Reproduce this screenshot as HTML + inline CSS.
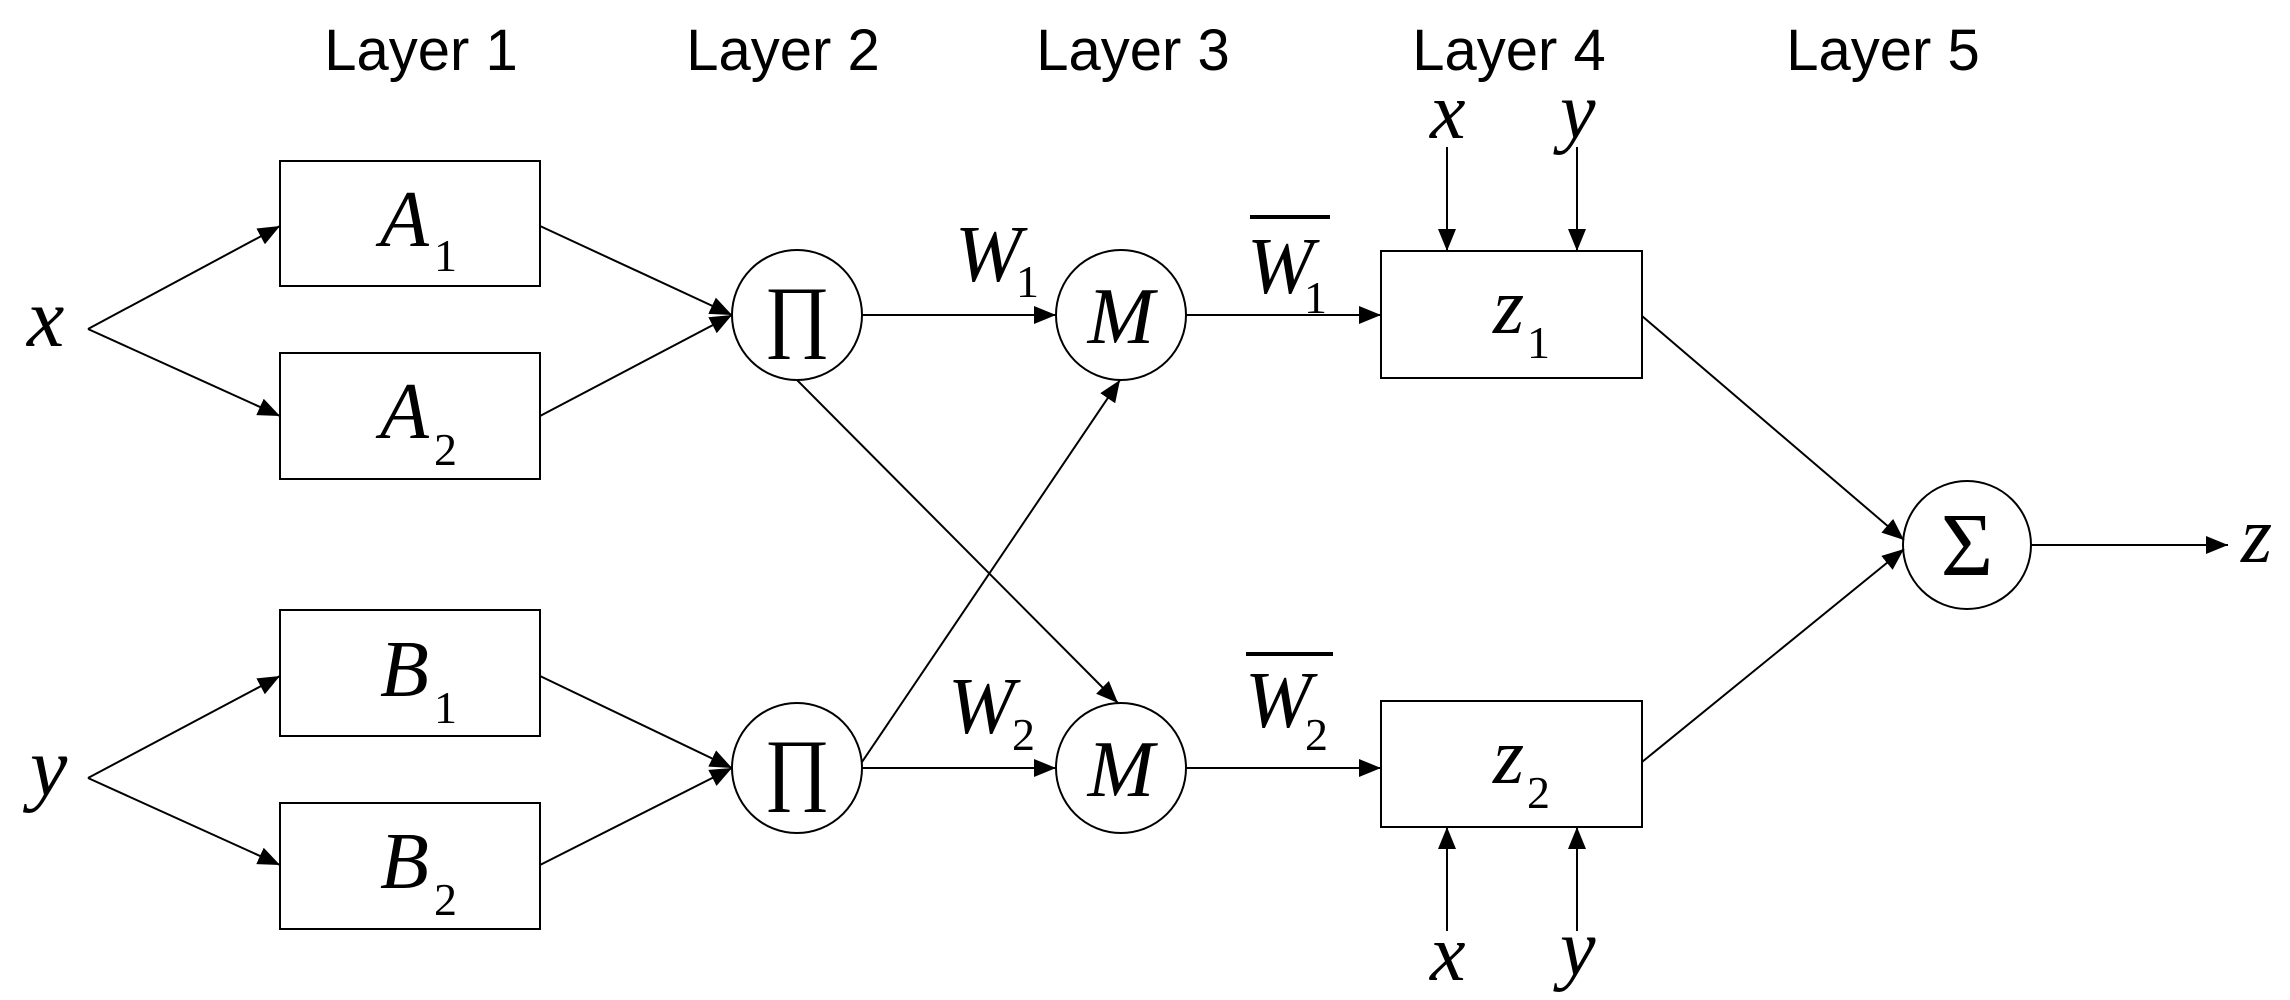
<!DOCTYPE html>
<html><head><meta charset="utf-8"><style>
html,body{margin:0;padding:0;background:#fff;}
svg{display:block}
.s{font-family:"Liberation Sans",sans-serif;font-size:58px;fill:#000}
.t{font-family:"Liberation Serif",serif;fill:#000}
.i{font-style:italic}
</style></head><body>
<svg width="2290" height="1000" viewBox="0 0 2290 1000" xmlns="http://www.w3.org/2000/svg">
<defs>
<marker id="a" markerUnits="userSpaceOnUse" markerWidth="24" markerHeight="18" refX="22" refY="9" orient="auto">
<path d="M0,0 L22,9 L0,18 z" fill="#000"/></marker>
</defs>
<g class="s" text-anchor="middle">
<text x="421" y="70">Layer 1</text>
<text x="783" y="70">Layer 2</text>
<text x="1133" y="70">Layer 3</text>
<text x="1509" y="70">Layer 4</text>
<text x="1883" y="70">Layer 5</text>
</g>
<g stroke="#000" stroke-width="2" fill="none">
<rect x="280" y="161" width="260" height="125"/>
<rect x="280" y="353" width="260" height="126"/>
<rect x="280" y="610" width="260" height="126"/>
<rect x="280" y="803" width="260" height="126"/>
<rect x="1381" y="251" width="261" height="127"/>
<rect x="1381" y="701" width="261" height="126"/>
<circle cx="797" cy="315" r="65"/>
<circle cx="797" cy="768" r="65"/>
<circle cx="1121" cy="315" r="65"/>
<circle cx="1121" cy="768" r="65"/>
<circle cx="1967" cy="545" r="64"/>
</g>
<g stroke="#000" stroke-width="2" fill="none" marker-end="url(#a)">
<line x1="88" y1="329" x2="280" y2="226"/>
<line x1="88" y1="329" x2="280" y2="416"/>
<line x1="88" y1="778" x2="280" y2="676"/>
<line x1="88" y1="778" x2="280" y2="865"/>
<line x1="540" y1="226" x2="732" y2="315"/>
<line x1="540" y1="416" x2="732" y2="315"/>
<line x1="540" y1="676" x2="732" y2="768"/>
<line x1="540" y1="865" x2="732" y2="768"/>
<line x1="862" y1="315" x2="1056" y2="315"/>
<line x1="862" y1="768" x2="1056" y2="768"/>
<line x1="797" y1="380" x2="1118" y2="703"/>
<line x1="862" y1="762" x2="1120" y2="380"/>
<line x1="1186" y1="315" x2="1381" y2="315"/>
<line x1="1186" y1="768" x2="1381" y2="768"/>
<line x1="1447" y1="147" x2="1447" y2="251"/>
<line x1="1577" y1="147" x2="1577" y2="251"/>
<line x1="1447" y1="931" x2="1447" y2="827"/>
<line x1="1577" y1="931" x2="1577" y2="827"/>
<line x1="1642" y1="316" x2="1904" y2="540"/>
<line x1="1642" y1="762" x2="1904" y2="549"/>
<line x1="2031" y1="545" x2="2228" y2="545"/>
</g>
<g class="t">
<text class="i" x="27" y="346" font-size="84">x</text>
<text class="i" x="30" y="795" font-size="84">y</text>
<text class="i" x="380" y="246" font-size="80">A</text><text x="434" y="271" font-size="46">1</text>
<text class="i" x="380" y="438" font-size="80">A</text><text x="434" y="465" font-size="46">2</text>
<text class="i" x="380" y="696" font-size="80">B</text><text x="434" y="723" font-size="46">1</text>
<text class="i" x="380" y="888" font-size="80">B</text><text x="434" y="915" font-size="46">2</text>
<text x="797" y="342" font-size="80" text-anchor="middle">∏</text>
<text x="797" y="795" font-size="80" text-anchor="middle">∏</text>
<text class="i" x="1121" y="343" font-size="80" text-anchor="middle">M</text>
<text class="i" x="1121" y="796" font-size="80" text-anchor="middle">M</text>
<text x="1967" y="575" font-size="90" text-anchor="middle">Σ</text>
<text class="i" x="955" y="281" font-size="80">W</text><text x="1016" y="297" font-size="46">1</text>
<text class="i" x="948" y="733" font-size="80">W</text><text x="1012" y="750" font-size="46">2</text>
<text class="i" x="1247" y="293" font-size="80">W</text><text x="1304" y="313" font-size="46">1</text>
<line x1="1250" y1="217" x2="1330" y2="217" stroke="#000" stroke-width="4"/>
<text class="i" x="1245" y="727" font-size="80">W</text><text x="1305" y="750" font-size="46">2</text>
<line x1="1246" y1="654" x2="1333" y2="654" stroke="#000" stroke-width="4"/>
<text class="i" x="1493" y="333" font-size="80">z</text><text x="1527" y="358" font-size="46">1</text>
<text class="i" x="1493" y="783" font-size="80">z</text><text x="1527" y="808" font-size="46">2</text>
<text class="i" x="1430" y="138" font-size="80">x</text>
<text class="i" x="1560" y="138" font-size="80">y</text>
<text class="i" x="1430" y="980" font-size="80">x</text>
<text class="i" x="1560" y="975" font-size="80">y</text>
<text class="i" x="2241" y="562" font-size="80">z</text>
</g>
</svg>
</body></html>
